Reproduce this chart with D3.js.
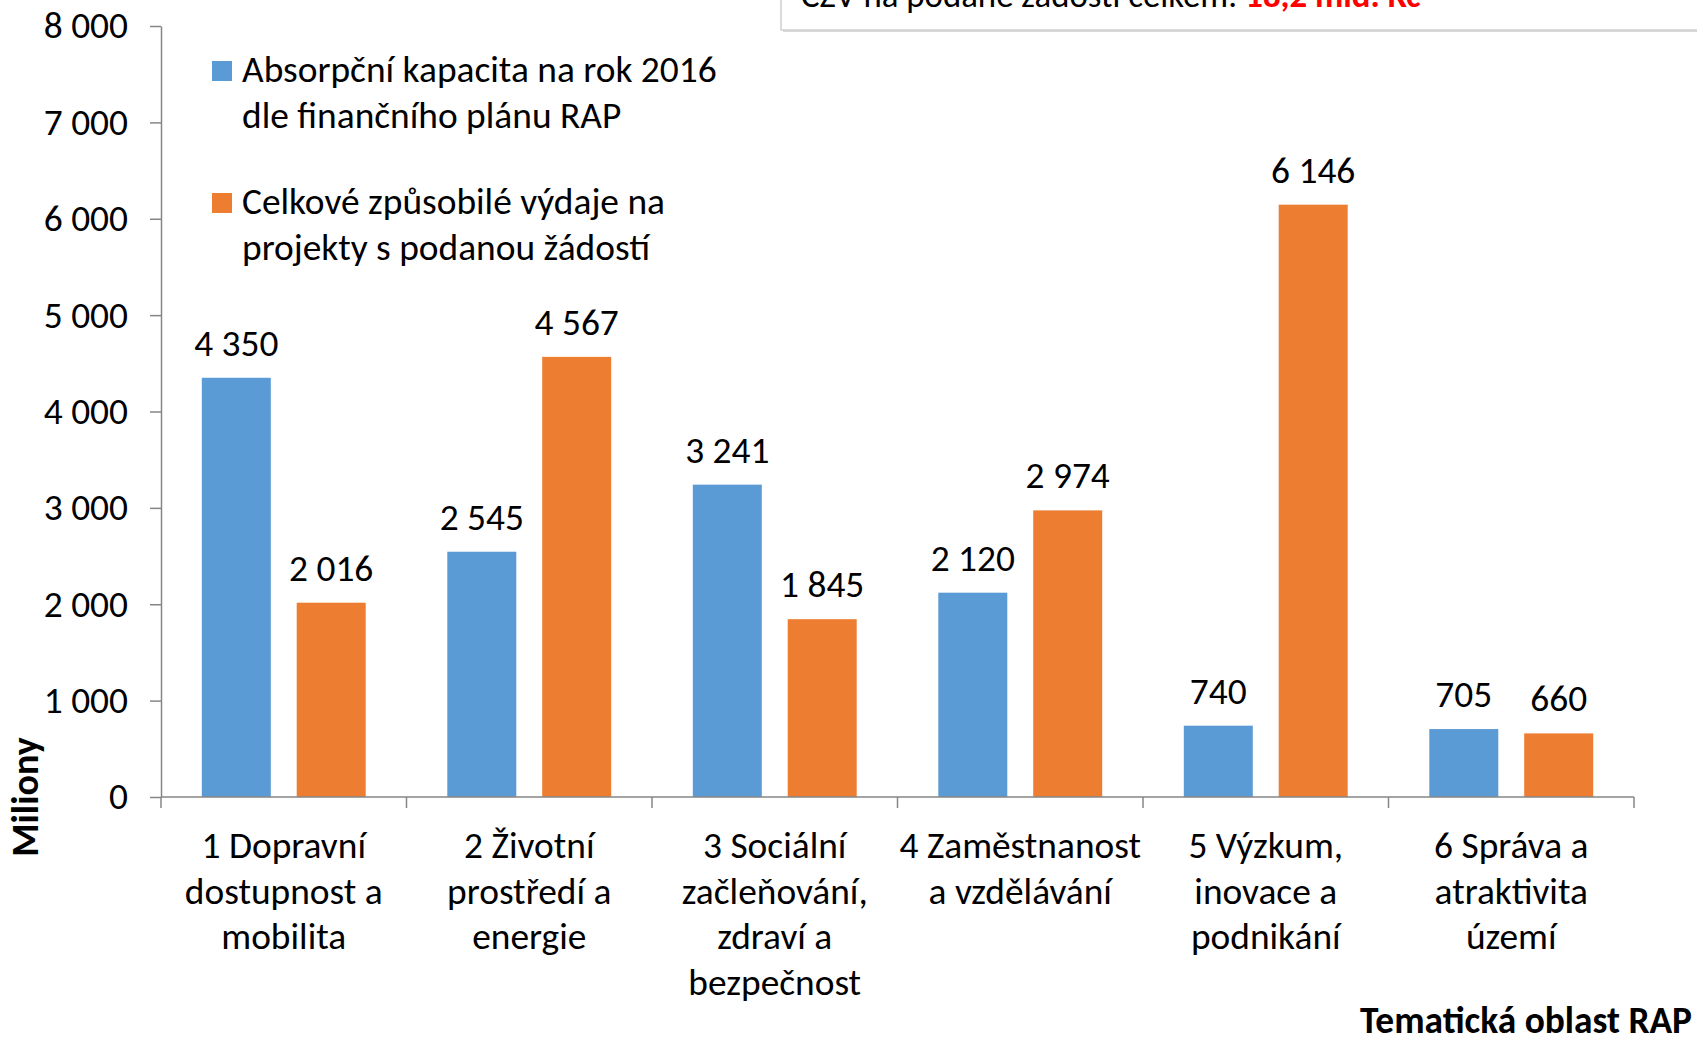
<!DOCTYPE html>
<html lang="cs"><head>
<meta charset="utf-8">
<title>RAP</title>
<script src="https://cdn.jsdelivr.net/npm/d3@7"></script>
<style>
  body { margin: 0; background: #fff; }
  text { font-family: Carlito, Lato, "Open Sans", sans-serif; fill: #000; }
</style>
</head>
<body>
<script type="text/javascript">

var width = 1697;
var height = 1039;

// data
var categories = [
    ["1 Dopravní", "dostupnost a", "mobilita"],
    ["2 Životní", "prostředí a", "energie"],
    ["3 Sociální", "začleňování,", "zdraví a", "bezpečnost"],
    ["4 Zaměstnanost", "a vzdělávání"],
    ["5 Výzkum,", "inovace a", "podnikání"],
    ["6 Správa a", "atraktivita", "území"]
];
var seriesNames = [
    ["Absorpční kapacita na rok 2016", "dle finančního plánu RAP"],
    ["Celkové způsobilé výdaje na", "projekty s podanou žádostí"]
];
var absorpcni = [4350, 2545, 3241, 2120, 740, 705];
var czv = [2016, 4567, 1845, 2974, 6146, 660];
var yTicks = [0, 1000, 2000, 3000, 4000, 5000, 6000, 7000, 8000];
var colors = ["#5B9BD5", "#ED7D31"];

var fmt = d3.formatLocale({decimal: ",", thousands: " ", grouping: [3], currency: ["", " Kč"]}).format(",d");
var fontSize = 37.4;

var svg = d3.select("body").append("svg")
            .attr("width", width)
            .attr("height", height);

var keys = categories.map(function(c, i){ return "c" + i; });

var x = d3.scaleBand()
            .domain(keys)
            .range([161, 1634]);

var x1 = d3.scaleBand()
            .domain([0, 1])
            .range([0, x.bandwidth()])
            .paddingInner(0.273)
            .paddingOuter(0.43);

var y = d3.scaleLinear()
            .domain([0, 8000])
            .range([797, 26]);

// text box at top
svg.append("rect")
    .attr("x", 783).attr("y", -40)
    .attr("width", 1000).attr("height", 72)
    .attr("fill", "#d9d9d9");
svg.append("rect")
    .attr("x", 781).attr("y", -40)
    .attr("width", 1000).attr("height", 70)
    .attr("fill", "#fff")
    .attr("stroke", "#d0d0d0")
    .attr("stroke-width", 1.5);
var boxText = svg.append("text")
    .attr("x", 801).attr("y", 7)
    .attr("font-size", 34.8);
boxText.append("tspan").text("CZV na podané žádosti celkem: ");
boxText.append("tspan")
    .attr("font-weight", "bold")
    .style("fill", "#ff0000")
    .text("18,2 mld. Kč");

// y axis
var yAxis = svg.append("g")
    .attr("transform", "translate(161,0)")
    .call(d3.axisLeft(y).tickValues(yTicks).tickFormat(fmt).tickSize(11).tickSizeOuter(0).tickPadding(22));
yAxis.select(".domain").attr("stroke", "#868686").attr("stroke-width", 1.5);
yAxis.selectAll(".tick line").attr("stroke", "#868686").attr("stroke-width", 1.5);
yAxis.selectAll(".tick text")
    .attr("font-size", fontSize)
    .attr("font-family", null)
    .style("fill", "#000");

// bars
var groups = svg.selectAll("g.cat")
    .data(keys)
    .enter()
    .append("g")
    .attr("class", "cat")
    .attr("transform", function(d){ return "translate(" + x(d) + ",0)"; });

groups.each(function(k, i){
    var g = d3.select(this);
    var vals = [absorpcni[i], czv[i]];
    g.selectAll("rect")
        .data(vals)
        .enter()
        .append("rect")
        .attr("x", function(d, j){ return x1(j); })
        .attr("y", function(d){ return y(d); })
        .attr("width", x1.bandwidth())
        .attr("height", function(d){ return y(0) - y(d); })
        .attr("fill", function(d, j){ return colors[j]; });
    g.selectAll("text.val")
        .data(vals)
        .enter()
        .append("text")
        .attr("class", "val")
        .attr("x", function(d, j){ return x1(j) + x1.bandwidth() / 2; })
        .attr("y", function(d){ return y(d) - 22; })
        .attr("text-anchor", "middle")
        .attr("font-size", fontSize)
        .text(function(d){ return fmt(d); });
});

// x axis
svg.append("line")
    .attr("x1", x.range()[0]).attr("x2", x.range()[1])
    .attr("y1", y(0)).attr("y2", y(0))
    .attr("stroke", "#868686").attr("stroke-width", 1.5);
svg.selectAll("line.xtick")
    .data(keys.map(function(k){ return x(k); }).concat([x.range()[1]]))
    .enter()
    .append("line")
    .attr("class", "xtick")
    .attr("x1", function(d){ return d; }).attr("x2", function(d){ return d; })
    .attr("y1", y(0)).attr("y2", y(0) + 11)
    .attr("stroke", "#868686").attr("stroke-width", 1.5);

groups.append("text")
    .attr("text-anchor", "middle")
    .attr("font-size", fontSize)
    .attr("y", 858)
    .selectAll("tspan")
    .data(function(k, i){ return categories[i]; })
    .enter()
    .append("tspan")
    .attr("x", x.bandwidth() / 2)
    .attr("dy", function(d, j){ return j === 0 ? 0 : 45.6; })
    .text(function(d){ return d; });

// legend
var legend = svg.selectAll("g.legend")
    .data(seriesNames)
    .enter()
    .append("g")
    .attr("class", "legend")
    .attr("transform", function(d, i){ return "translate(212," + (61 + i * 132) + ")"; });
legend.append("rect")
    .attr("width", 20).attr("height", 20)
    .attr("fill", function(d, i){ return colors[i]; });
legend.append("text")
    .attr("font-size", fontSize)
    .attr("y", 21)
    .selectAll("tspan")
    .data(function(d){ return d; })
    .enter()
    .append("tspan")
    .attr("x", 30)
    .attr("dy", function(d, j){ return j === 0 ? 0 : 45.6; })
    .text(function(d){ return d; });

// axis titles
svg.append("text")
    .attr("transform", "translate(38,797) rotate(-90)")
    .attr("text-anchor", "middle")
    .attr("font-size", 38)
    .attr("font-weight", "bold")
    .text("Miliony");

svg.append("text")
    .attr("x", 1692).attr("y", 1033)
    .attr("text-anchor", "end")
    .attr("font-size", 37.4)
    .attr("font-weight", "bold")
    .text("Tematická oblast RAP");

</script>
</body></html>
